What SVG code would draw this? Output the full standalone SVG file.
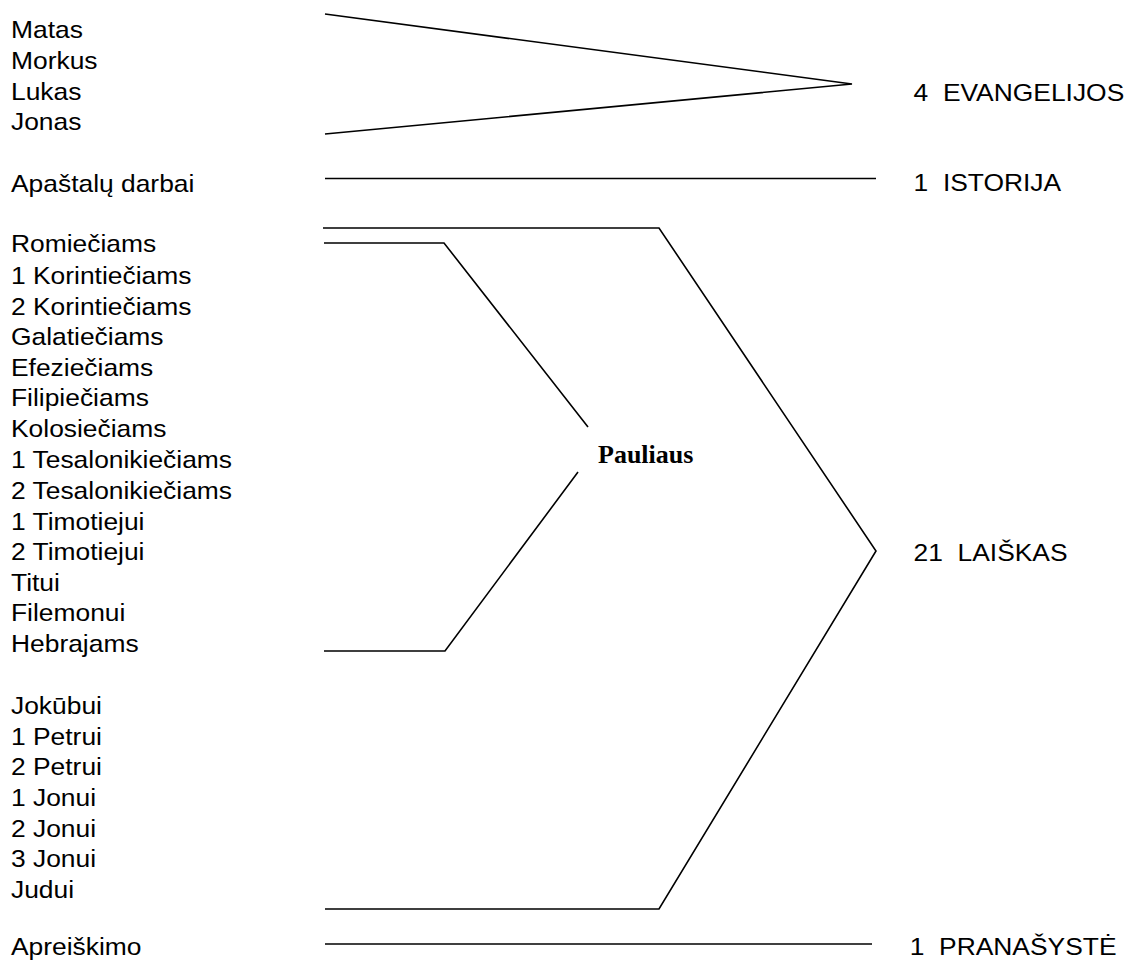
<svg xmlns="http://www.w3.org/2000/svg" width="1132" height="963" viewBox="0 0 1132 963">
<style>
.t{font-family:"Liberation Sans",Arial,sans-serif;font-size:24px;fill:#000;white-space:pre}
.p{font-family:"Liberation Serif","Times New Roman",serif;font-size:26px;font-weight:bold;fill:#000}
.l{fill:none;stroke:#000;stroke-width:1.6;stroke-linejoin:miter}
</style>
<rect width="1132" height="963" fill="#fff"/>
<g id="books" transform="scale(1.1 1)">
<text class="t" x="10" y="38">Matas</text>
<text class="t" x="10" y="69">Morkus</text>
<text class="t" x="10" y="100">Lukas</text>
<text class="t" x="10" y="130">Jonas</text>
<text class="t" x="10" y="192">Apaštalų darbai</text>
<text class="t" x="10" y="252">Romiečiams</text>
<text class="t" x="10" y="284">1 Korintiečiams</text>
<text class="t" x="10" y="315">2 Korintiečiams</text>
<text class="t" x="10" y="345.5">Galatiečiams</text>
<text class="t" x="10" y="376">Efeziečiams</text>
<text class="t" x="10" y="406.5">Filipiečiams</text>
<text class="t" x="10" y="437">Kolosiečiams</text>
<text class="t" x="10" y="468.5">1 Tesalonikiečiams</text>
<text class="t" x="10" y="499">2 Tesalonikiečiams</text>
<text class="t" x="10" y="530">1 Timotiejui</text>
<text class="t" x="10" y="560">2 Timotiejui</text>
<text class="t" x="10" y="591">Titui</text>
<text class="t" x="10" y="621.5">Filemonui</text>
<text class="t" x="10" y="652">Hebrajams</text>
<text class="t" x="10" y="714">Jokūbui</text>
<text class="t" x="10" y="745">1 Petrui</text>
<text class="t" x="10" y="775.5">2 Petrui</text>
<text class="t" x="10" y="806">1 Jonui</text>
<text class="t" x="10" y="837">2 Jonui</text>
<text class="t" x="10" y="867.5">3 Jonui</text>
<text class="t" x="10" y="898">Judui</text>
<text class="t" x="10" y="955">Apreiškimo</text>
</g>
<g id="categories" transform="scale(1.1 1)">
<text class="t" x="830.5" y="101">4  EVANGELIJOS</text>
<text class="t" x="830.5" y="191">1  ISTORIJA</text>
<text class="t" x="830.5" y="561">21  LAIŠKAS</text>
<text class="t" x="827" y="955">1  PRANAŠYSTĖ</text>
</g>
<g id="pauliaus">
<text class="p" x="598" y="463">Pauliaus</text>
</g>
<g id="connectors">
<polyline class="l" points="325,14 852,84 325,134"/>
<line class="l" x1="325" y1="178.5" x2="876" y2="178.5"/>
<polyline class="l" points="323,228 659,228 876,551 659,909 325,909"/>
<polyline class="l" points="324,243 444,243 588,427"/>
<polyline class="l" points="578,472 445,651 324,651"/>
<line class="l" x1="325" y1="944" x2="872" y2="944"/>
</g>
</svg>
